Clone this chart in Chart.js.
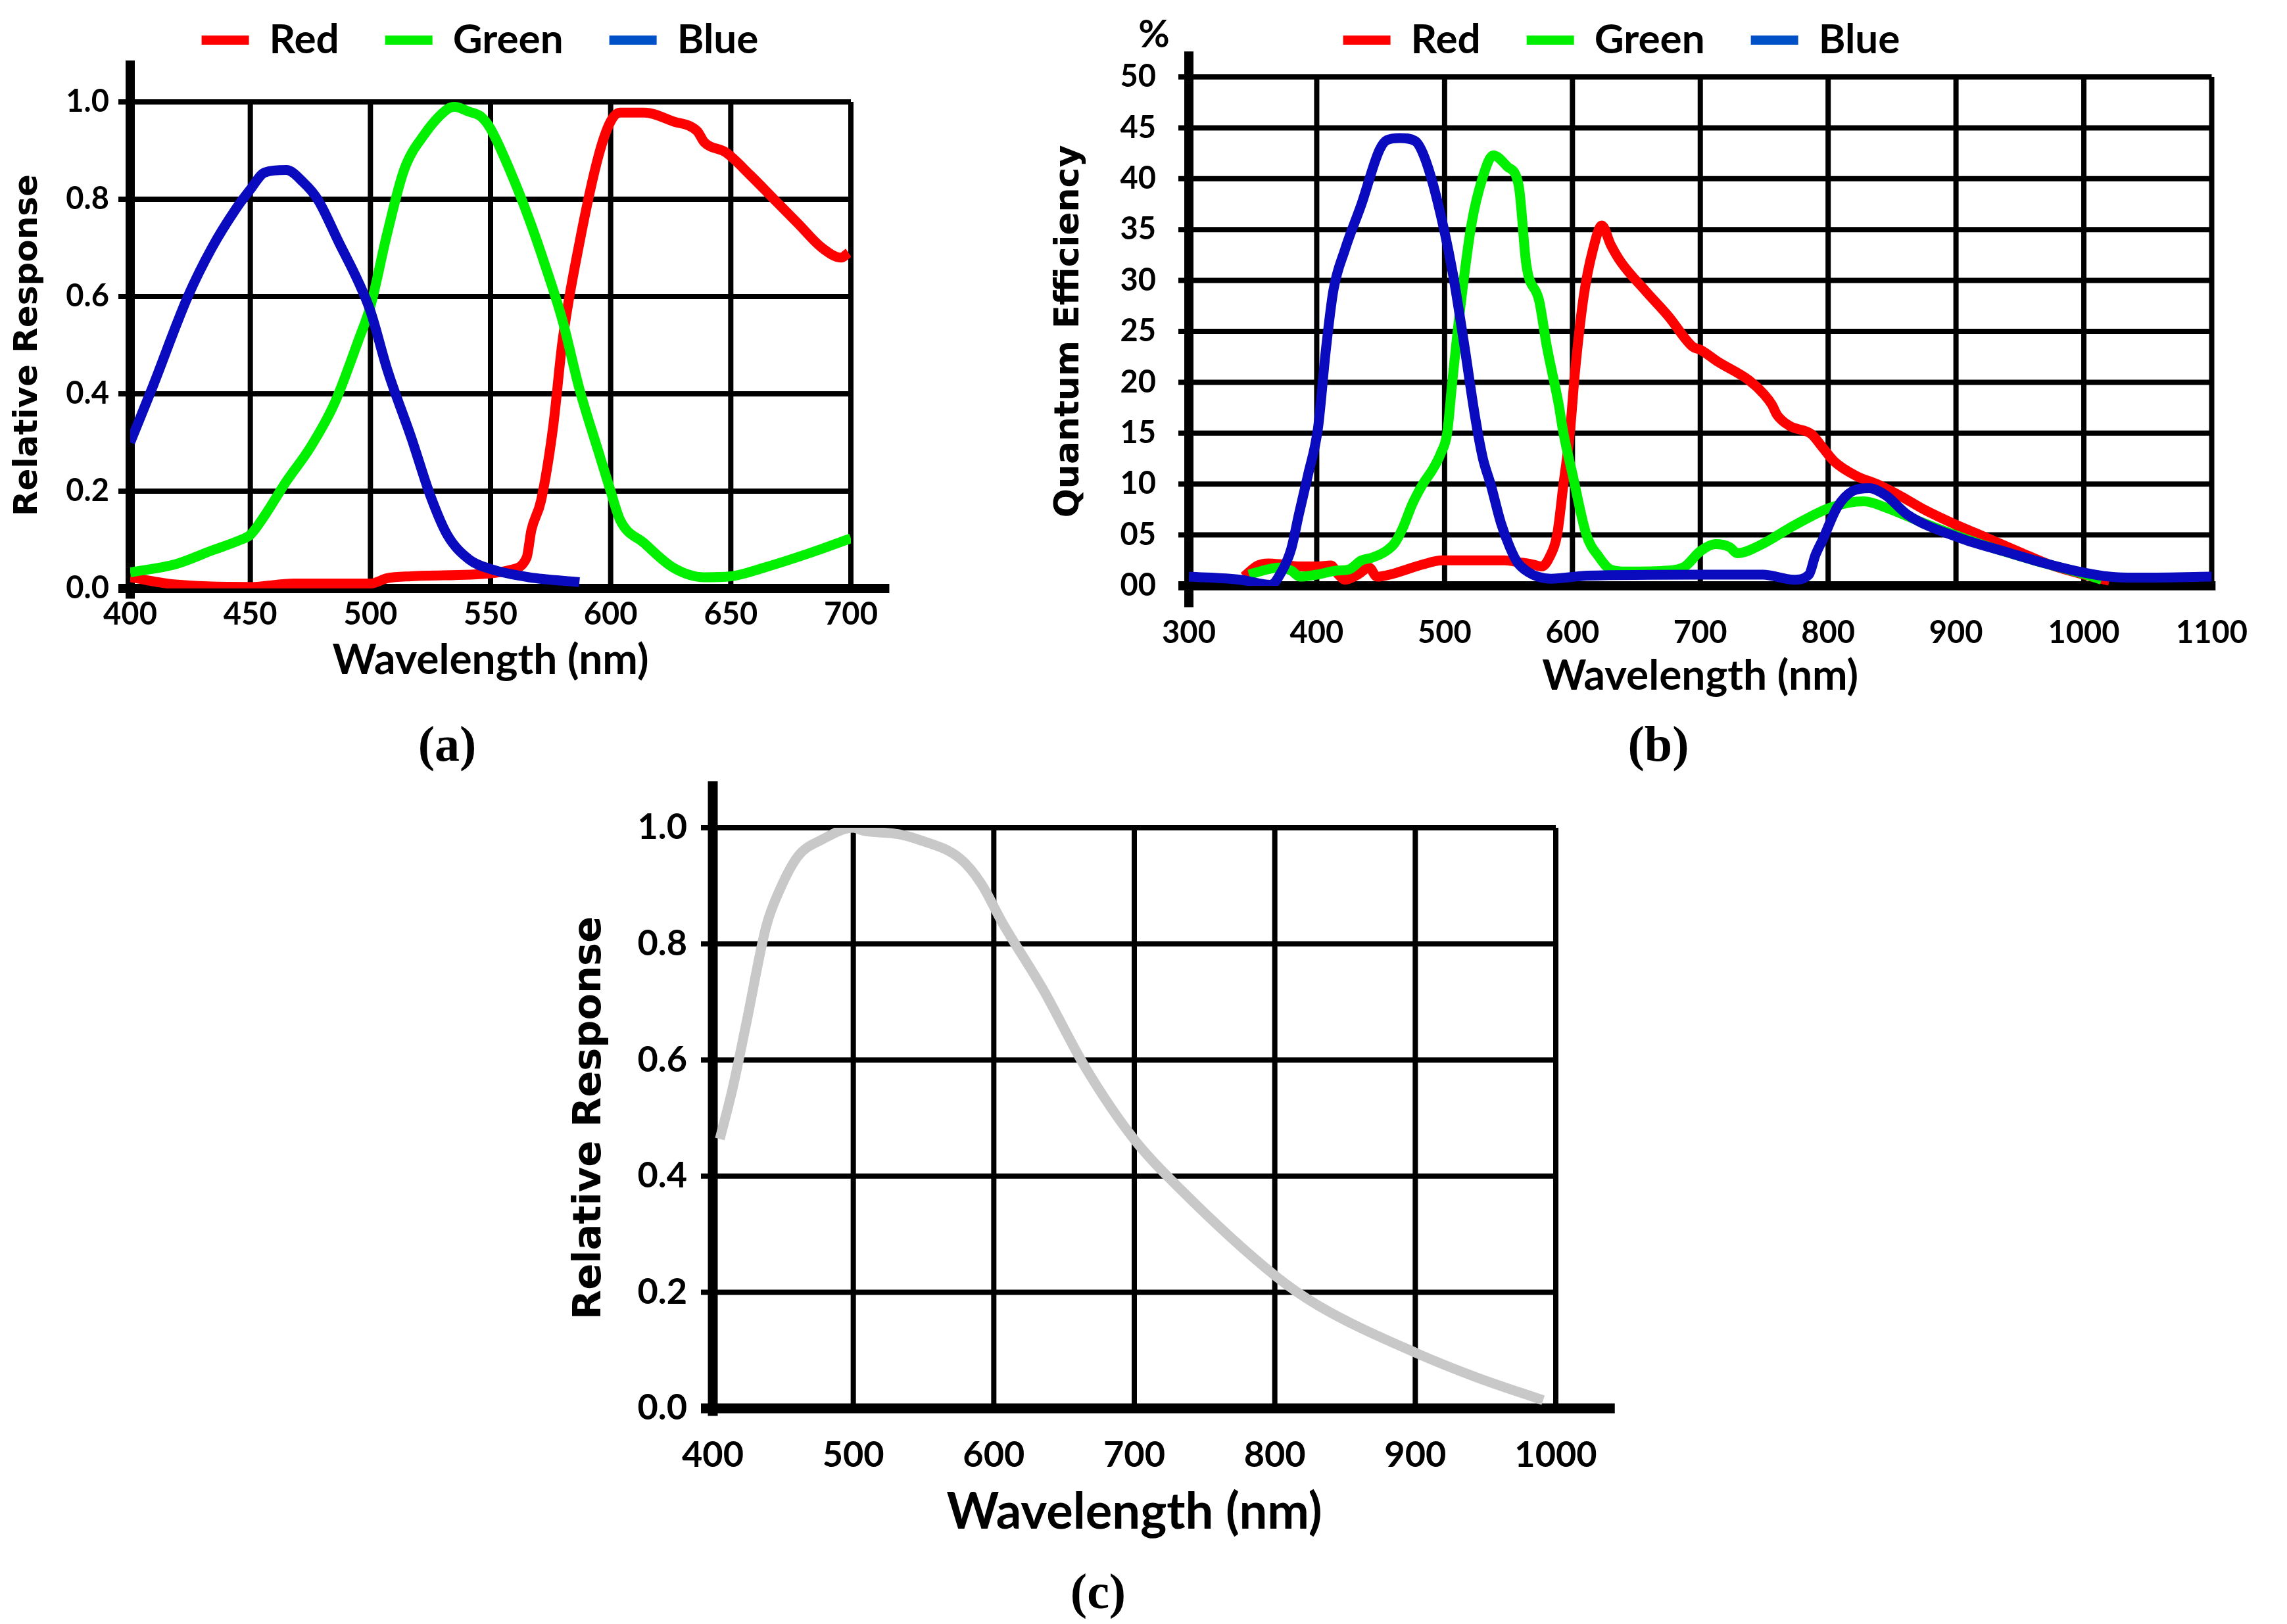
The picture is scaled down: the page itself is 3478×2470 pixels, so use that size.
<!DOCTYPE html>
<html>
<head>
<meta charset="utf-8">
<script src="https://cdn.jsdelivr.net/npm/chart.js@4.4.1/dist/chart.umd.min.js"></script>
<style>
  html, body { margin: 0; padding: 0; background: #fff; }
  body { width: 3478px; height: 2470px; position: relative; overflow: hidden; }
  canvas { position: absolute; }
  .tag { position: absolute; font-family: "Liberation Serif", serif; font-weight: bold; font-size: 76px; line-height: 1; transform: translate(-50%, -50%); color: #000; }
</style>
</head>
<body>
<canvas id="chartA" width="1460" height="1083" style="left:0px;top:-40px"></canvas>
<canvas id="chartB" width="1992" height="1107" style="left:1470px;top:-40px"></canvas>
<canvas id="chartC" width="1630" height="1196" style="left:850px;top:1150px"></canvas>
<div class="tag" style="left:680px;top:1131px">(a)</div>
<div class="tag" style="left:2522px;top:1131px">(b)</div>
<div class="tag" style="left:1670px;top:2420px">(c)</div>
<script>
// (a) relative response, 400-700 nm
const wlRedA = [400, 419, 450, 468, 500, 507, 517, 550, 558, 565, 567, 571, 576, 580, 587, 595, 600, 604, 614, 626, 636, 639, 648, 658, 668, 678, 688, 696, 699];
const redA = [0.023, 0.008, 0.003, 0.01, 0.01, 0.021, 0.025, 0.031, 0.038, 0.063, 0.12, 0.18, 0.33, 0.51, 0.71, 0.89, 0.96, 0.978, 0.978, 0.96, 0.94, 0.917, 0.896, 0.85, 0.80, 0.75, 0.70, 0.68, 0.69];
const wlGreenA = [400, 419, 434, 446, 450, 456, 465, 475, 485, 495, 500, 507, 514, 522, 532, 535, 541, 546, 550, 558, 566, 573, 580, 587, 595, 600, 604, 614, 626, 639, 650, 664, 683, 700];
const greenA = [0.033, 0.05, 0.078, 0.10, 0.11, 0.15, 0.22, 0.29, 0.38, 0.51, 0.58, 0.73, 0.86, 0.93, 0.985, 0.99, 0.98, 0.97, 0.945, 0.86, 0.76, 0.66, 0.55, 0.41, 0.28, 0.20, 0.14, 0.093, 0.043, 0.023, 0.025, 0.043, 0.073, 0.103];
const wlBlueA = [400, 409, 424, 434, 444, 450, 456, 465, 472, 478, 487, 495, 500, 507, 517, 525, 532, 541, 550, 566, 587];
const blueA = [0.30, 0.41, 0.60, 0.70, 0.78, 0.82, 0.855, 0.86, 0.835, 0.80, 0.71, 0.63, 0.57, 0.45, 0.31, 0.19, 0.11, 0.06, 0.04, 0.023, 0.013];

// (b) quantum efficiency in %, 300-1100 nm
const wlRedB = [343, 354, 362, 373, 387, 401, 411, 417, 422, 432, 441, 447, 460, 483, 498, 515, 547, 559, 569, 576, 582, 588, 593, 598, 602, 609, 616, 623, 630, 638, 657, 675, 694, 700, 714, 738, 750, 756, 760, 770, 787, 795, 805, 822, 838, 857, 875, 900, 915, 950, 975, 1000, 1020];
const redB = [0.9, 2.0, 2.2, 2.1, 1.9, 1.9, 2.0, 1.1, 0.6, 1.1, 1.8, 0.9, 1.2, 2.1, 2.5, 2.5, 2.5, 2.3, 2.1, 1.9, 2.8, 5, 10, 15, 21, 28.6, 33, 35.4, 33.5, 31.8, 29, 26.5, 23.5, 23.2, 22, 20.2, 18.8, 17.8, 16.8, 15.7, 14.9, 13.7, 12.2, 10.8, 10, 8.8, 7.5, 6.0, 5.2, 3.3, 2.0, 1.1, 0.5];
const wlGreenB = [347, 361, 370, 380, 387, 400, 416, 425, 435, 444, 454, 461, 467, 475, 483, 491, 497, 502, 506, 512, 521, 530, 538, 549, 558, 564, 574, 580, 589, 593, 600, 611, 621, 630, 643, 675, 688, 700, 712, 723, 729, 747, 773, 802, 828, 845, 874, 917, 961, 1002, 1014];
const greenB = [1.1, 1.6, 1.8, 1.5, 0.9, 1.1, 1.5, 1.6, 2.5, 2.8, 3.4, 4.2, 5.6, 8.1, 10, 11.5, 13, 15, 20, 27, 35.5, 40.2, 42.3, 41.2, 39.3, 31.5, 28, 23.5, 18, 15, 11, 5, 2.8, 1.6, 1.4, 1.5, 1.9, 3.4, 4.1, 3.8, 3.2, 4.0, 5.9, 7.7, 8.3, 7.7, 6.2, 4.2, 2.5, 1.1, 0.6];
const wlBlueB = [300, 340, 364, 373, 380, 386, 393, 401, 407, 413, 422, 435, 449, 455, 465, 477, 484, 494, 506, 515, 524, 530, 536, 544, 551, 557, 566, 573, 583, 612, 700, 749, 773, 785, 790, 796, 807, 819, 832, 845, 862, 903, 940, 970, 1000, 1020, 1040, 1100];
const blueB = [0.9, 0.6, 0.1, 1.5, 3.6, 7, 10.8, 15.5, 23, 29, 33, 37.5, 42.8, 43.8, 44, 43.7, 42.2, 38, 31, 24, 16.5, 12.5, 10, 6.2, 3.8, 2.3, 1.3, 0.9, 0.7, 1.0, 1.1, 1.1, 0.6, 1.1, 3.0, 4.6, 7.7, 9.3, 9.6, 8.9, 7.0, 4.7, 3.3, 2.2, 1.3, 0.9, 0.8, 0.9];

// (c) monochrome relative response, 400-1000 nm
const wlGray = [405, 414, 424, 438, 448, 461, 478, 500, 507, 532, 546, 576, 591, 606, 635, 665, 700, 733, 800, 831, 900, 944, 991];
const gray = [0.464, 0.55, 0.665, 0.83, 0.895, 0.952, 0.98, 1.0, 0.995, 0.989, 0.98, 0.947, 0.904, 0.837, 0.722, 0.588, 0.463, 0.377, 0.229, 0.177, 0.096, 0.053, 0.014];

const seriesNames = ['Red', 'Green', 'Blue'];
const lineColors = ['#ff0000', '#00f000', '#0a0abe'];
const keyColors = ['#ff0000', '#00ee00', '#0050c8'];

function pts(xs, ys) {
  return xs.map((x, i) => ({ x: x, y: ys[i] }));
}

// grid, axis lines and tick stubs, drawn under the curves
const framePlugin = {
  id: 'frame',
  beforeDatasetsDraw(chart, args, o) {
    const ctx = chart.ctx;
    const xs = chart.scales.x, ys = chart.scales.y;
    const left = xs.getPixelForValue(xs.min), right = xs.getPixelForValue(xs.max);
    const bottom = ys.getPixelForValue(ys.min), top = ys.getPixelForValue(ys.max);
    const seg = (x1, y1, x2, y2) => { ctx.beginPath(); ctx.moveTo(x1, y1); ctx.lineTo(x2, y2); ctx.stroke(); };
    ctx.save();
    ctx.strokeStyle = '#000';
    ctx.lineCap = 'butt';
    ctx.lineWidth = o.gridWidth;
    xs.ticks.forEach(t => { const px = xs.getPixelForValue(t.value); seg(px, bottom, px, top); });
    ys.ticks.forEach(t => { const py = ys.getPixelForValue(t.value); seg(left - o.tickOut, py, right, py); });
    ctx.lineWidth = o.axisWidth;
    seg(left - o.tickOut, bottom, xs.getPixelForValue(o.xAxisEnd), bottom);
    seg(left, ys.getPixelForValue(o.yAxisTop), left, ys.getPixelForValue(o.yAxisBottom));
    if (o.unit) {
      ctx.fillStyle = '#000';
      ctx.font = 'bold 58px Lato';
      ctx.textAlign = 'center';
      ctx.textBaseline = 'middle';
      ctx.fillText(o.unit, left - 53, ys.getPixelForValue(o.yAxisTop) - 25);
    }
    ctx.restore();
  }
};

function rgbSets(wls, vals, width) {
  return vals.map((v, i) => ({
    label: seriesNames[i],
    data: pts(wls[i], v),
    borderColor: lineColors[i],
    backgroundColor: keyColors[i],
    borderWidth: width,
    pointRadius: 0,
    pointStyle: 'line',
    cubicInterpolationMode: 'monotone',
    borderJoinStyle: 'round',
    order: 3 - i
  }));
}

function makeChart(id, s) {
  return new Chart(document.getElementById(id), {
    type: 'line',
    data: { datasets: s.datasets },
    plugins: [framePlugin],
    options: {
      responsive: false,
      animation: false,
      events: [],
      devicePixelRatio: 1,
      layout: { padding: s.padding },
      plugins: {
        tooltip: { enabled: false },
        legend: {
          display: s.legend,
          position: 'top',
          weight: 3000,
          labels: {
            color: '#000',
            font: { family: 'Lato', weight: 'bold', size: 62 },
            usePointStyle: true,
            pointStyleWidth: 72,
            padding: 70,
            sort: (a, b) => a.datasetIndex - b.datasetIndex,
            generateLabels: (chart) => {
              const items = Chart.defaults.plugins.legend.labels.generateLabels(chart);
              items.forEach(it => {
                const ds = chart.data.datasets[it.datasetIndex];
                it.strokeStyle = ds.backgroundColor;
                it.lineCap = 'butt';
                it.lineWidth = 14;
              });
              return items;
            }
          }
        },
        title: {
          display: s.legend,
          text: '',
          padding: { top: 0, bottom: s.gap },
          font: { size: 1, lineHeight: 1 }
        },
        frame: s.frame
      },
      scales: {
        x: {
          type: 'linear',
          min: s.xMin, max: s.xMax,
          afterFit: (sc) => { sc.height = s.xHeight; },
          grid: { display: false, drawTicks: false },
          border: { display: false },
          ticks: {
            stepSize: s.xStep,
            includeBounds: false,
            padding: s.xTickPad,
            maxRotation: 0,
            autoSkip: false,
            color: '#000',
            font: { family: 'Lato', weight: 'bold', size: s.tickSize },
            callback: (v) => String(v)
          },
          title: {
            display: true,
            text: 'Wavelength (nm)',
            color: '#000',
            padding: 0,
            font: { family: 'Lato', weight: 'bold', size: s.xTitleSize }
          }
        },
        y: {
          min: s.yMin, max: s.yMax,
          afterFit: (sc) => { sc.width = s.yWidth; },
          grid: { display: false, drawTicks: false },
          border: { display: false },
          ticks: {
            stepSize: s.yStep,
            includeBounds: false,
            padding: s.yTickPad,
            autoSkip: false,
            color: '#000',
            font: { family: 'Lato', weight: 'bold', size: s.tickSize },
            callback: s.yFormat
          },
          title: {
            display: true,
            text: s.yTitle,
            color: '#000',
            padding: { top: s.yTitlePad, bottom: 0 },
            font: { family: 'DejaVu Sans', weight: 'bold', size: s.yTitleSize }
          }
        },
        // empty strip on the right so the legend stays centred on the whole panel
        side: {
          position: 'right',
          afterFit: (sc) => { sc.width = s.rightGap; },
          grid: { display: false, drawTicks: false },
          border: { display: false },
          ticks: { display: false }
        }
      }
    }
  });
}

makeChart('chartA', {
  datasets: rgbSets([wlRedA, wlGreenA, wlBlueA], [redA, greenA, blueA], 15),
  legend: true, gap: 52, rightGap: 166,
  padding: { left: 0, right: 0, top: 0, bottom: 0 },
  xMin: 400, xMax: 700, xStep: 50, xHeight: 148, xTickPad: 12, xTitleSize: 64,
  yMin: 0, yMax: 1, yStep: 0.2, yWidth: 198, yTickPad: 32,
  yTitle: 'Relative Response', yTitleSize: 50, yTitlePad: 13, tickSize: 47,
  yFormat: (v) => v.toFixed(1),
  frame: { gridWidth: 8, axisWidth: 14, tickOut: 18, xAxisEnd: 716, yAxisTop: 1.085, yAxisBottom: -0.021 }
});

makeChart('chartB', {
  datasets: rgbSets([wlRedB, wlGreenB, wlBlueB], [redB, greenB, blueB], 15),
  legend: true, gap: 14, rightGap: 61,
  padding: { left: 0, right: 0, top: 0, bottom: 0 },
  xMin: 300, xMax: 1100, xStep: 100, xHeight: 176, xTickPad: 44, xTitleSize: 64,
  yMin: 0, yMax: 50, yStep: 5, yWidth: 338, yTickPad: 50,
  yTitle: 'Quantum Efficiency', yTitleSize: 52, yTitlePad: 125, tickSize: 47,
  yFormat: (v) => (v < 10 ? '0' + v : '' + v),
  frame: { gridWidth: 8, axisWidth: 14, tickOut: 16, xAxisEnd: 1103, yAxisTop: 52.5, yAxisBottom: -2.1, unit: '%' }
});

makeChart('chartC', {
  datasets: [{
    label: 'Response',
    data: pts(wlGray, gray),
    borderColor: '#c8c8c8',
    borderWidth: 15,
    pointRadius: 0,
    cubicInterpolationMode: 'monotone',
    borderJoinStyle: 'round'
  }],
  legend: false, gap: 0, rightGap: 114,
  padding: { left: 0, right: 0, top: 109, bottom: 0 },
  xMin: 400, xMax: 1000, xStep: 100, xHeight: 204, xTickPad: 39, xTitleSize: 76,
  yMin: 0, yMax: 1, yStep: 0.2, yWidth: 234, yTickPad: 39,
  yTitle: 'Relative Response', yTitleSize: 59, yTitlePad: 12, tickSize: 54,
  yFormat: (v) => v.toFixed(1),
  frame: { gridWidth: 8, axisWidth: 15, tickOut: 18, xAxisEnd: 1042, yAxisTop: 1.08, yAxisBottom: -0.013 }
});
</script>
</body>
</html>
